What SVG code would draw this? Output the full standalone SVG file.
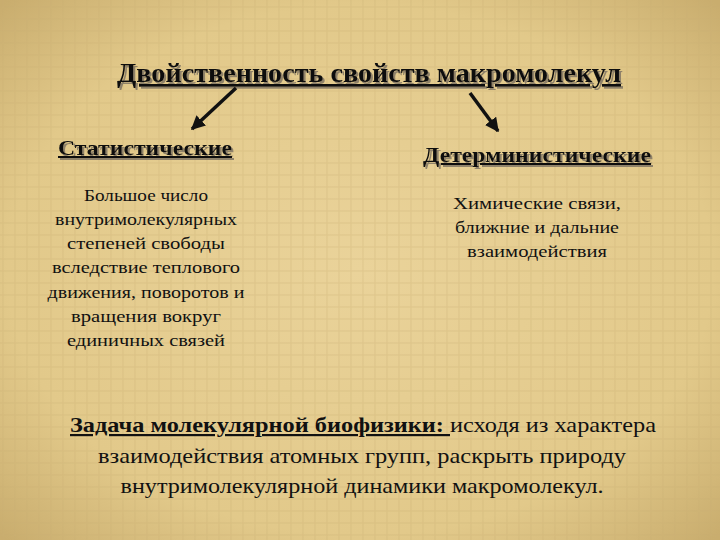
<svg xmlns="http://www.w3.org/2000/svg" width="720" height="540" viewBox="0 0 720 540">
<defs>
<radialGradient id="bg" cx="50%" cy="50%" r="70%">
<stop offset="0" stop-color="#ead39a"/><stop offset="0.7" stop-color="#e2c98a"/><stop offset="1" stop-color="#c9ad6e"/>
</radialGradient>
<pattern id="tex" width="24" height="24" patternUnits="userSpaceOnUse">
<path d="M3 0V24M15 0V24M0 7H24M0 19H24" stroke="#c8ad70" stroke-width="1" opacity="0.35"/>
</pattern>
<filter id="sh" x="-5%" y="-20%" width="110%" height="150%"><feDropShadow dx="2" dy="2" stdDeviation="0.6" flood-color="#7a7060" flood-opacity="0.8"/></filter>
<marker id="ah" viewBox="0 0 10 10" refX="9" refY="5" markerWidth="4" markerHeight="4" orient="auto"><path d="M0 0L10 5L0 10Z" fill="#111"/></marker>
</defs>
<style>
text{font-family:"Liberation Serif","DejaVu Serif",serif;fill:#111}
.h{font-weight:bold;text-decoration:underline;filter:url(#sh)}
.b{font-size:17px;text-anchor:middle}
</style>
<rect width="720" height="540" fill="url(#bg)"/>
<rect width="720" height="540" fill="url(#tex)"/>
<g id="title">
<text class="h" x="117" y="82" font-size="27" textLength="504" lengthAdjust="spacingAndGlyphs">Двойственность свойств макромолекул</text>
</g>
<g id="connectors" stroke="#111" stroke-width="3.5" fill="none" marker-end="url(#ah)">
<line x1="236" y1="88" x2="192" y2="129"/>
<line x1="470" y1="93" x2="498" y2="131"/>
</g>
<g id="stat">
<text class="h" x="58" y="155" font-size="20" textLength="174" lengthAdjust="spacingAndGlyphs">Статистические</text>
<text class="b" x="146" y="201" textLength="124" lengthAdjust="spacingAndGlyphs">Большое число</text>
<text class="b" x="146" y="225" textLength="182" lengthAdjust="spacingAndGlyphs">внутримолекулярных</text>
<text class="b" x="146" y="249" textLength="158" lengthAdjust="spacingAndGlyphs">степеней свободы</text>
<text class="b" x="146" y="273" textLength="188" lengthAdjust="spacingAndGlyphs">вследствие теплового</text>
<text class="b" x="146" y="298" textLength="197" lengthAdjust="spacingAndGlyphs">движения, поворотов и</text>
<text class="b" x="146" y="322" textLength="150" lengthAdjust="spacingAndGlyphs">вращения вокруг</text>
<text class="b" x="146" y="346" textLength="158" lengthAdjust="spacingAndGlyphs">единичных связей</text>
</g>
<g id="det">
<text class="h" x="423" y="162" font-size="20" textLength="228" lengthAdjust="spacingAndGlyphs">Детерминистические</text>
<text class="b" x="537" y="209" textLength="168" lengthAdjust="spacingAndGlyphs">Химические связи,</text>
<text class="b" x="537" y="233" textLength="164" lengthAdjust="spacingAndGlyphs">ближние и дальние</text>
<text class="b" x="537" y="257" textLength="140" lengthAdjust="spacingAndGlyphs">взаимодействия</text>
</g>
<g id="task">
<text x="70" y="432" font-size="22" textLength="586" lengthAdjust="spacingAndGlyphs"><tspan font-weight="bold" text-decoration="underline">Задача молекулярной биофизики: </tspan>исходя из характера</text>
<text x="362" y="463" text-anchor="middle" font-size="22" textLength="528" lengthAdjust="spacingAndGlyphs">взаимодействия атомных групп, раскрыть природу</text>
<text x="362" y="493" text-anchor="middle" font-size="22" textLength="483" lengthAdjust="spacingAndGlyphs">внутримолекулярной динамики макромолекул.</text>
</g>
</svg>
